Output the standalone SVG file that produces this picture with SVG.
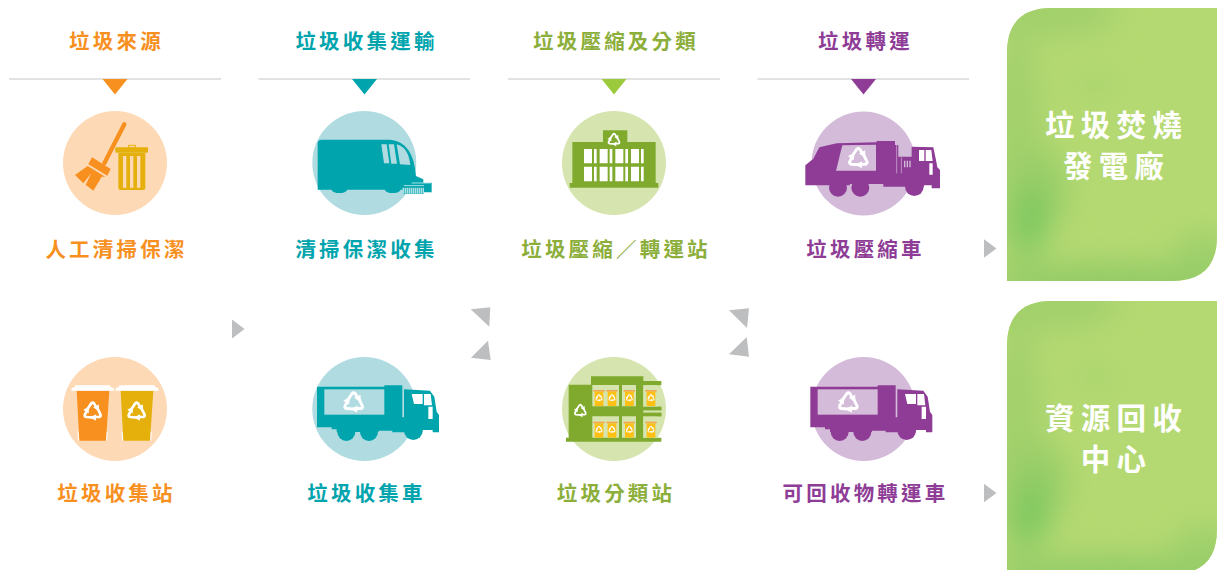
<svg xmlns="http://www.w3.org/2000/svg" xmlns:xlink="http://www.w3.org/1999/xlink" width="1217" height="570" viewBox="0 0 1217 570">
<style>
text{font-family:"Noto Sans CJK TC","Noto Sans CJK SC","Liberation Sans",sans-serif;font-weight:700;text-anchor:middle}
.l{font-size:20.5px;letter-spacing:3.2px}
.p{font-size:29.500px;letter-spacing:6.2px;fill:#fff}
.or{fill:#f7901e}.te{fill:#00a4ad}.gr{fill:#8cae3a}.pu{fill:#8e3c96}
.rule{stroke:#d9d9d9;stroke-width:1.5}
.arr{fill:#bcbec0}
</style>
<defs>
<filter id="blur" x="-60%" y="-60%" width="220%" height="220%"><feGaussianBlur stdDeviation="15"/></filter>
<clipPath id="pc"><path d="M1052,8H1217V236Q1217,281 1172,281H1007V53Q1007,8 1052,8Z"/></clipPath>
<g id="panel">
<path d="M1052,8H1217V236Q1217,281 1172,281H1007V53Q1007,8 1052,8Z" fill="#b5d972"/>
<g clip-path="url(#pc)"><g filter="url(#blur)">
<ellipse cx="1016" cy="150" rx="26" ry="120" fill="#a2d06c"/>
<ellipse cx="1050" cy="12" rx="70" ry="26" fill="#a2d06c"/>
<ellipse cx="1040" cy="190" rx="28" ry="40" fill="#97cd68"/>
<ellipse cx="1030" cy="222" rx="16" ry="34" fill="#78c75e"/>
<ellipse cx="1115" cy="285" rx="130" ry="22" fill="#92cb66"/>
<ellipse cx="1205" cy="255" rx="32" ry="22" fill="#9ccf6a"/>
<ellipse cx="1095" cy="85" rx="26" ry="12" fill="#a8d46e"/>
</g></g>
</g>
<g id="rec"><g id="r1"><path d="M-13,-2L-3,-17Q0,-20 3,-17L7,-10" fill="none" stroke="#fff" stroke-width="5.500"/><path d="M1,-9L13,-15L13,-1Z" fill="#fff"/></g><use href="#r1" transform="rotate(120)"/><use href="#r1" transform="rotate(240)"/></g>
<path id="truckBody" d="M831,260H1033V256H1087V352H1092V268L1170,272L1183,290L1190,335L1197,345V397H1178V390H1147V397H1057V392H1016V396H890V388H875V382H831Z"/>
<g id="wheels"><circle cx="919" cy="396" r="27"/><circle cx="987" cy="396" r="27"/><circle cx="1120" cy="392" r="28"/></g>
<g id="bin"><rect x="-17" y="0" width="34" height="5" fill="#f0a850"/><rect x="-13" y="5" width="26" height="43" fill="#fdc013"/><use href="#rec" transform="translate(0,24) scale(.55)"/></g>
</defs>
<rect width="1217" height="570" fill="#fff"/>

<g id="connectors">
<path class="arr" d="M232,319.5L244.5,329L232,338.5Z"/>
<path class="arr" d="M984,239.3L996.5,248.5L984,257.7Z"/>
<path class="arr" d="M984,483.7L996.5,493L984,502.3Z"/>
<path class="arr" d="M470.7,309.3L490.3,307.3L489.3,326.7Z"/>
<path class="arr" d="M471,357.7L488,340.7L490.7,360Z"/>
<path class="arr" d="M729,310.3L749,308.3L747,328Z"/>
<path class="arr" d="M729,354.3L746.7,337L749,356.7Z"/>
</g>

<g id="header-source"><line class="rule" x1="9" y1="79" x2="221" y2="79"/><path d="M102.5,79H127.5L115,94.5Z" fill="#f7901e"/><text class="l or" x="116.500" y="49">垃圾來源</text></g>
<g id="header-transport"><line class="rule" x1="258.500" y1="79" x2="470" y2="79"/><path d="M352,79H377L364.500,94.500Z" fill="#00a4ad"/><text class="l te" x="366.500" y="49">垃圾收集運輸</text></g>
<g id="header-sort"><line class="rule" x1="508" y1="79" x2="720" y2="79"/><path d="M601.500,79H626.500L614,94.500Z" fill="#9bcb3c"/><text class="l gr" x="616" y="49">垃圾壓縮及分類</text></g>
<g id="header-transfer"><line class="rule" x1="757.500" y1="79" x2="969" y2="79"/><path d="M851,79H876L863.500,94.500Z" fill="#8e3c96"/><text class="l pu" x="865.500" y="49">垃圾轉運</text></g>

<g id="node-manual">
<circle cx="115" cy="163" r="52" fill="#fdd9b5"/>
<g transform="translate(0,60) scale(.33333)">
<line x1="373" y1="193" x2="313" y2="310" stroke="#f7901e" stroke-width="13" stroke-linecap="round"/>
<path d="M276,292L332,327L322,347L265,313Z" fill="#f7901e"/>
<path d="M263,318L225,345L250,370L274,340L257,374L280,392L305,350L316,350Z" fill="#f7901e"/>
<rect x="346" y="262" width="98" height="16" rx="3" fill="#e5b00b"/>
<rect x="386" y="256" width="20" height="8" fill="none" stroke="#e5b00b" stroke-width="3"/>
<path d="M355,279H436V384Q436,390 430,390H361Q355,390 355,384Z" fill="#e5b00b"/>
<path d="M369,288h10v95h-10zM390,288h10v95h-10zM411,288h10v95h-10z" fill="#fdd9b5"/>
</g>
<text class="l or" x="116.500" y="257">人工清掃保潔</text>
</g>

<g id="node-cleaning">
<circle cx="364.300" cy="163" r="52" fill="#b0dce1"/>
<g transform="translate(0,60) scale(.33333)">
<path d="M953,250Q953,239 965,239H1170Q1240,245 1248,348L1270,358V368H1295V397H1210V389H1202A25,14 0 0 1 1154,389H1042A25,14 0 0 1 994,389H953Z" fill="#00a4ad"/>
<path d="M1144,253H1160L1168,310H1152ZM1166,253H1182L1191,311H1174ZM1190,253Q1225,262 1231,315L1200,313Z" fill="#b0dce1"/>
<rect x="1208" y="380" width="64" height="22" fill="#00a4ad"/>
<line x1="1208" y1="392" x2="1272" y2="392" stroke="#fff" stroke-width="18" stroke-dasharray="3 3"/>
<path d="M1212,377H1272M1235,369H1292" stroke="#fff" stroke-width="2"/>
</g>
<text class="l te" x="366.500" y="257">清掃保潔收集</text>
</g>

<g id="node-station">
<circle cx="614" cy="163" r="52" fill="#d6e5b0"/>
<g transform="translate(500,60) scale(.33333)">
<path d="M309,211H382V246H467V369H475V383H209V369H217V246H309Z" fill="#7faa2e"/>
<path d="M252,267h24v43h-24zM282,267h8v43h-8zM299,267h24v43h-24zM329,267h8v43h-8zM346,267h24v43h-24zM376,267h8v43h-8zM393,267h24v43h-24zM423,267h8v43h-8zM252,320h24v44h-24zM282,320h8v44h-8zM299,320h24v44h-24zM329,320h8v44h-8zM346,320h24v44h-24zM376,320h8v44h-8zM393,320h24v44h-24zM423,320h8v44h-8z" fill="#fff"/>
<use href="#rec" transform="translate(342,240)"/>
</g>
<text class="l gr" x="616" y="257">垃圾壓縮／轉運站</text>
</g>

<g id="node-compactor">
<circle cx="863.500" cy="163.500" r="52" fill="#d4bbd9"/>
<g transform="translate(500,60) scale(.33333)" fill="#8e3c96">
<path d="M916,316L940,296L958,262L1010,250L1130,247V243H1185V255H1195V290H1235V260L1300,262L1308,300L1312,322L1320,330V385H1295V376H1272V380H1150V372H1050V376H916Z"/>
<circle cx="1014" cy="383" r="27"/><circle cx="1081" cy="383" r="27"/><circle cx="1243" cy="380" r="28"/>
<path d="M1027,256L1128,254V332H1008Z" fill="#d4bbd9"/>
<use href="#rec" transform="translate(1075,295) scale(1.6)"/>
<path d="M1257,270h16v33h-16zM1277,270h17l4,33h-21zM1288,310h10v34h-10z" fill="#fff"/>
<path d="M1190,255V340M1204,292V340" stroke="#d4bbd9" stroke-width="2" fill="none"/>
<path d="M1212,302h4v20h-4zM1220,302h4v20h-4zM1228,302h4v20h-4z" fill="#d4bbd9"/>
</g>
<text class="l pu" x="865.500" y="257">垃圾壓縮車</text>
</g>

<g id="node-bins">
<circle cx="115" cy="409" r="52" fill="#fdd9b5"/>
<g transform="translate(40,300) scale(.33333)">
<path d="M110,272H208L198,422H118Z" fill="#f7901e"/>
<path d="M242,272H340L330,422H250Z" fill="#e5b00b"/>
<path d="M94,268Q94,263 104,262L106,256H210L212,262Q222,263 222,268V272H94ZM226,268Q226,263 236,262L238,256H344L346,262Q356,263 356,268V272H226Z" fill="#fff"/>
<path d="M114,395L116,422M202,395L200,422M246,395L248,422M334,395L332,422" stroke="#fff" stroke-width="3"/>
<use href="#rec" transform="translate(158,335) scale(1.45)"/>
<use href="#rec" transform="translate(290,335) scale(1.45)"/>
</g>
<text class="l or" x="116.500" y="501">垃圾收集站</text>
</g>

<g id="node-collection-truck">
<circle cx="364.300" cy="409" r="52" fill="#b0dce1"/>
<g transform="translate(40,300) scale(.33333)" fill="#00a4ad">
<use href="#truckBody"/><use href="#wheels"/>
<rect x="853" y="268" width="180" height="76" fill="#b0dce1"/>
<use href="#rec" transform="translate(941,308) scale(1.6)"/>
<path d="M1115,282H1148V312H1122ZM1152,282H1172L1176,316H1152ZM1165,320H1178V357H1165Z" fill="#fff"/>
</g>
<text class="l te" x="366.500" y="501">垃圾收集車</text>
</g>

<g id="node-sorting">
<circle cx="614" cy="409" r="52" fill="#d6e5b0"/>
<g transform="translate(500,300) scale(.33333)">
<path d="M206,254H273V229H430V243H484V256H430V320H484V331H430V338H484V349H430V413H484V425H198V413H206Z" fill="#7faa2e"/>
<path d="M277,255h80v64h-80zM366,255h42v64h-42zM430,256h42v64h-42zM277,349h80v64h-80zM366,349h42v64h-42zM430,349h42v64h-42z" fill="#d6e5b0"/>
<path d="M430,320h54v11h-54zM430,338h54v11h-54z" fill="#7faa2e"/>
<use href="#rec" transform="translate(241,333)"/>
<use href="#bin" x="297" y="270"/><use href="#bin" x="336" y="270"/><use href="#bin" x="388" y="270"/><use href="#bin" x="453" y="270"/>
<use href="#bin" x="297" y="365"/><use href="#bin" x="336" y="365"/><use href="#bin" x="388" y="365"/><use href="#bin" x="453" y="365"/>
</g>
<text class="l gr" x="616" y="501">垃圾分類站</text>
</g>

<g id="node-recycle-truck">
<circle cx="863.500" cy="409" r="52" fill="#d4bbd9"/>
<g transform="translate(533.330,300) scale(.33333)" fill="#8e3c96">
<use href="#truckBody"/><use href="#wheels"/>
<rect x="853" y="268" width="180" height="76" fill="#d4bbd9"/>
<use href="#rec" transform="translate(945,308) scale(1.6)"/>
<path d="M1115,282H1148V312H1122ZM1152,282H1172L1176,316H1152ZM1165,320H1178V357H1165Z" fill="#fff"/>
</g>
<text class="l pu" x="865.500" y="501">可回收物轉運車</text>
</g>

<g id="node-incineration">
<use href="#panel"/>
<text class="p" x="1116.500" y="136">垃圾焚燒</text>
<text class="p" x="1116.500" y="177">發電廠</text>
</g>
<g id="node-recovery">
<use href="#panel" y="293"/>
<text class="p" x="1116.500" y="429">資源回收</text>
<text class="p" x="1116.500" y="470">中心</text>
</g>
</svg>
